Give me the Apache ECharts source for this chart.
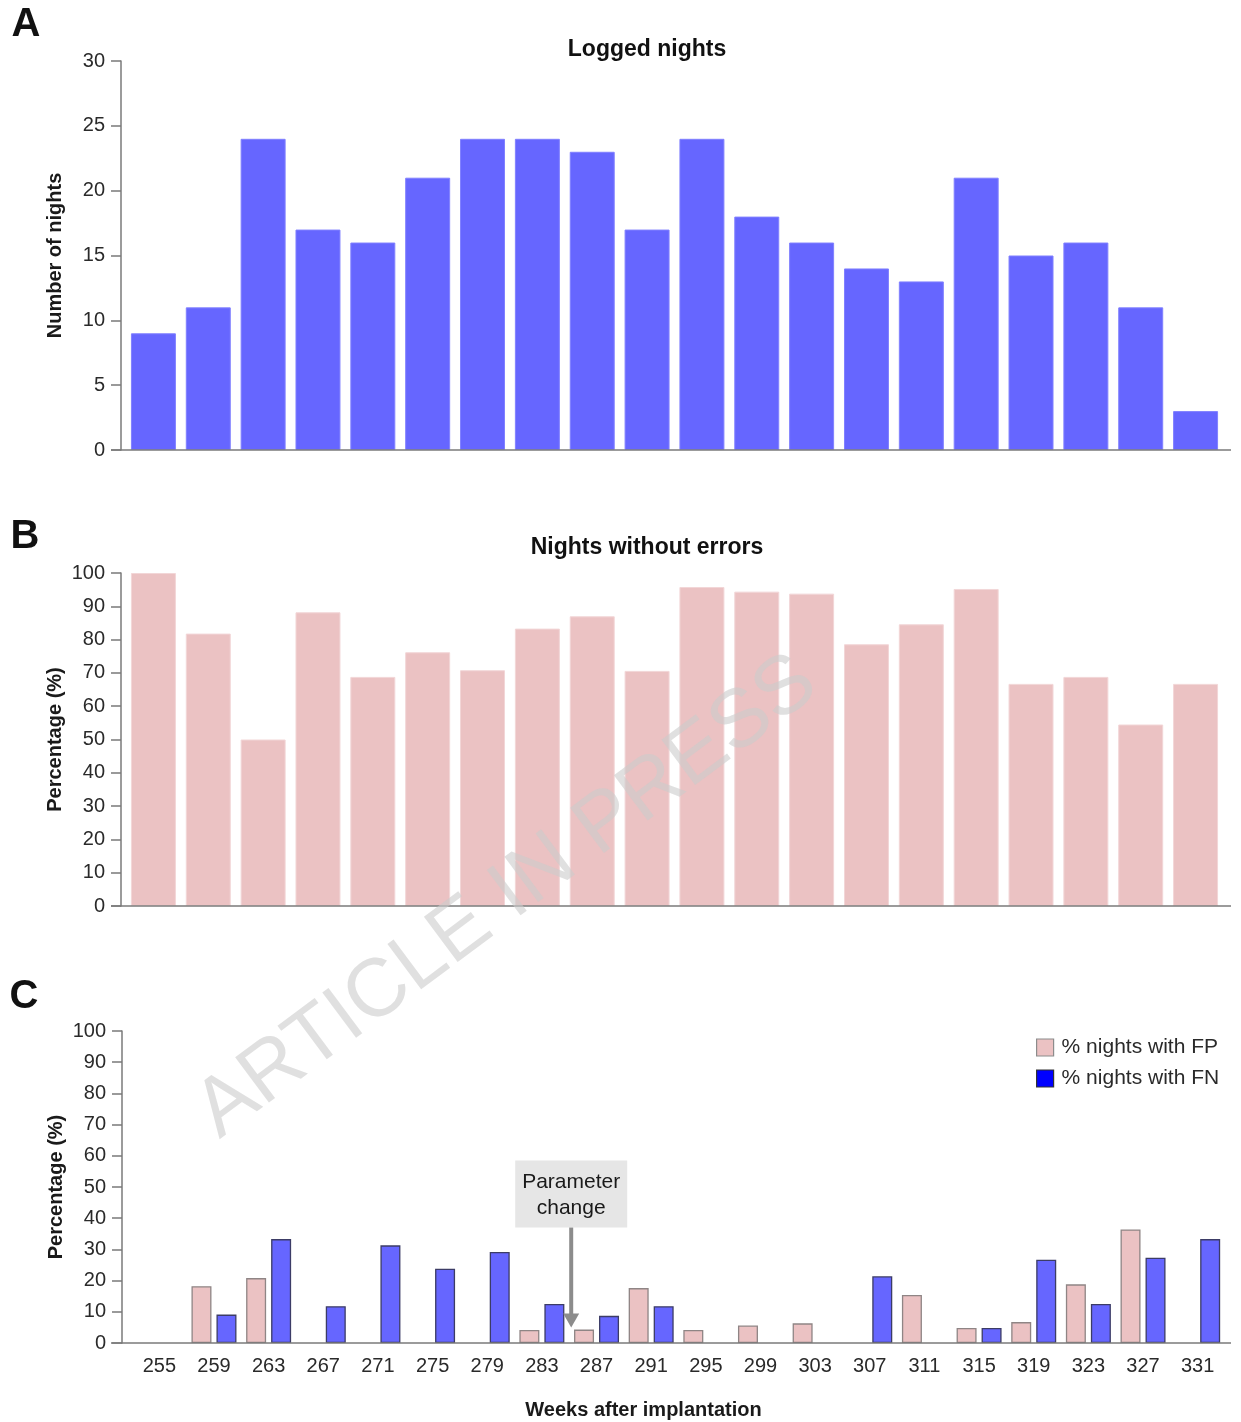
<!DOCTYPE html>
<html>
<head>
<meta charset="utf-8">
<title>Logged nights and error rates</title>
<script src="https://cdn.jsdelivr.net/npm/echarts@6/dist/echarts.min.js"></script>
<style>
  html, body { margin: 0; padding: 0; background: #ffffff; }
  #chart { width: 1241px; height: 1422px; }
</style>
</head>
<body>
<div id="chart"></div>
<script>
// Weeks after implantation (category axis shared by the three panels)
const weeks = ['255', '259', '263', '267', '271', '275', '279', '283', '287', '291',
               '295', '299', '303', '307', '311', '315', '319', '323', '327', '331'];

// Panel A: number of logged nights per 4-week block
const loggedNights = [9, 11, 24, 17, 16, 21, 24, 24, 23, 17, 24, 18, 16, 14, 13, 21, 15, 16, 11, 3];

// Panel B: percentage of nights without errors
const nightsWithoutErrors = [100, 81.8, 50, 88.2, 68.8, 76.2, 70.8, 83.3, 87, 70.6,
                             95.8, 94.4, 93.8, 78.6, 84.6, 95.2, 66.7, 68.8, 54.5, 66.7];

// Panel C: percentage of nights with false positives / false negatives
const pctNightsFP = [0, 18.2, 20.8, 0, 0, 0, 0, 4.2, 4.3, 17.6,
                     4.2, 5.6, 6.3, 0, 15.4, 4.8, 6.7, 18.8, 36.4, 0];
const pctNightsFN = [0, 9.1, 33.3, 11.8, 31.3, 23.8, 29.2, 12.5, 8.7, 11.8,
                     0, 0, 0, 21.4, 0, 4.8, 26.7, 12.5, 27.3, 33.3];

// Axis tick settings
const nightsTicks = { min: 0, max: 30, interval: 5 };
const percentTicks = { min: 0, max: 100, interval: 10 };

const FONT = "'Liberation Sans', Arial, Helvetica, sans-serif";
const AXIS_GREY = '#7a7a7a';
const BLUE = '#6666ff';
const PINK = '#ebc2c3';

// Plot areas (pixels)
const panels = [
  { top: 61,   height: 389, left: 126, right: 18, offset: 5 },
  { top: 573,  height: 333, left: 126, right: 18, offset: 5 },
  { top: 1031, height: 312, left: 132, right: 16, offset: 10 }
];

// Empty weeks get no bar at all (a zero-height bar would still show its outline)
const noZeroBars = arr => arr.map(v => (v === 0 ? '-' : v));

function valueAxis(gridIndex, ticks, name, offset) {
  return {
    type: 'value', gridIndex, min: ticks.min, max: ticks.max, interval: ticks.interval,
    offset,
    name, nameLocation: 'middle', nameGap: 56, nameMoveOverlap: false,
    nameTextStyle: { fontFamily: FONT, fontSize: 20, fontWeight: 'bold', color: '#1a1a1a' },
    axisLine: { show: true, lineStyle: { color: AXIS_GREY, width: 1.5 } },
    axisTick: { show: true, length: 10, lineStyle: { color: AXIS_GREY, width: 1.5 } },
    axisLabel: { fontFamily: FONT, fontSize: 20, color: '#2a2a2a', margin: 16 },
    splitLine: { show: false }
  };
}

function categoryAxis(gridIndex, showLabels) {
  return {
    type: 'category', gridIndex, data: weeks,
    axisLine: { show: false },
    axisTick: { show: false },
    axisLabel: { show: showLabels, fontFamily: FONT, fontSize: 20, color: '#2a2a2a', margin: 13 },
    name: showLabels ? 'Weeks after implantation' : '',
    nameLocation: 'middle', nameGap: 57, nameMoveOverlap: false,
    nameTextStyle: {
      fontFamily: FONT, fontSize: 20, fontWeight: 'bold', color: '#1a1a1a',
      padding: [0, 70, 0, 0]
    }
  };
}

// Baselines run a little past both ends of each plot area
function baseline(p) {
  const y = p.top + p.height;
  return {
    type: 'line', z: 50,
    shape: { x1: 111, y1: y, x2: 1231, y2: y },
    style: { stroke: AXIS_GREY, lineWidth: 1.5 }
  };
}

function label(text, x, y, size, weight, align) {
  return {
    type: 'text', x, y, z: 60,
    style: {
      text, fontFamily: FONT, fontSize: size, fontWeight: weight,
      fill: '#111', textAlign: align || 'center', textVerticalAlign: 'middle'
    }
  };
}

const chart = echarts.init(document.getElementById('chart'), null, { renderer: 'canvas' });

const option = {
  backgroundColor: '#ffffff',
  animation: false,
  grid: panels.map(p => ({ top: p.top, height: p.height, left: p.left, right: p.right })),
  xAxis: [categoryAxis(0, false), categoryAxis(1, false), categoryAxis(2, true)],
  yAxis: [
    valueAxis(0, nightsTicks, 'Number of nights', panels[0].offset),
    valueAxis(1, percentTicks, 'Percentage (%)', panels[1].offset),
    valueAxis(2, percentTicks, 'Percentage (%)', panels[2].offset)
  ],
  legend: {
    orient: 'vertical', left: 1036, top: 1037,
    itemWidth: 17, itemHeight: 17, itemGap: 10, padding: 0,
    icon: 'rect',
    textStyle: { fontFamily: FONT, fontSize: 21, color: '#2a2a2a', padding: [0, 0, 0, 3] },
    data: [
      { name: '% nights with FP', itemStyle: { color: PINK, borderColor: '#8c8c8c', borderWidth: 1.2 } },
      { name: '% nights with FN', itemStyle: { color: '#0000ff', borderColor: '#333', borderWidth: 1.2 } }
    ]
  },
  series: [
    {
      name: 'Logged nights', type: 'bar', xAxisIndex: 0, yAxisIndex: 0,
      data: loggedNights, barCategoryGap: '18%',
      itemStyle: { color: BLUE, borderColor: '#8080ff', borderWidth: 1 }
    },
    {
      name: 'Nights without errors', type: 'bar', xAxisIndex: 1, yAxisIndex: 1,
      data: nightsWithoutErrors, barCategoryGap: '18%',
      itemStyle: { color: PINK, borderColor: '#f2d6d7', borderWidth: 1 }
    },
    {
      name: '% nights with FP', type: 'bar', xAxisIndex: 2, yAxisIndex: 2,
      data: noZeroBars(pctNightsFP), barWidth: 20, barGap: '25%',
      itemStyle: { color: PINK, borderColor: '#8f8585', borderWidth: 1.3 }
    },
    {
      name: '% nights with FN', type: 'bar', xAxisIndex: 2, yAxisIndex: 2,
      data: noZeroBars(pctNightsFN), barWidth: 20, barGap: '25%',
      itemStyle: { color: BLUE, borderColor: '#3c3c66', borderWidth: 1.3 }
    }
  ]
};

chart.setOption(option);

// Parameter change marker, placed between weeks 283 and 287
const xa = chart.convertToPixel({ xAxisIndex: 2 }, '283');
const xb = chart.convertToPixel({ xAxisIndex: 2 }, '287');
const ax = (xa + xb) / 2 + 2;
const tipY = chart.convertToPixel({ yAxisIndex: 2 }, 5);
const boxBottom = chart.convertToPixel({ yAxisIndex: 2 }, 37);
const boxTop = chart.convertToPixel({ yAxisIndex: 2 }, 58.5);

chart.setOption({
  graphic: [
    baseline(panels[0]), baseline(panels[1]), baseline(panels[2]),
    label('A', 26, 25, 40, 'bold'),
    label('B', 25, 537, 40, 'bold'),
    label('C', 24, 997, 40, 'bold'),
    label('Logged nights', 647, 50, 23, 'bold'),
    label('Nights without errors', 647, 548, 23, 'bold'),
    {
      type: 'rect', z: 55,
      shape: { x: ax - 56, y: boxTop, width: 112, height: boxBottom - boxTop },
      style: { fill: '#e6e6e6' }
    },
    {
      type: 'text', x: ax, y: (boxTop + boxBottom) / 2 + 1, z: 60,
      style: {
        text: 'Parameter\nchange', fontFamily: FONT, fontSize: 21, lineHeight: 26,
        fill: '#1a1a1a', textAlign: 'center', textVerticalAlign: 'middle'
      }
    },
    {
      type: 'line', z: 55,
      shape: { x1: ax, y1: boxBottom, x2: ax, y2: tipY - 12 },
      style: { stroke: '#8c8c8c', lineWidth: 4 }
    },
    {
      type: 'polygon', z: 55,
      shape: { points: [[ax - 8, tipY - 14], [ax + 8, tipY - 14], [ax, tipY]] },
      style: { fill: '#8c8c8c' }
    },
    {
      // "ARTICLE IN PRESS" watermark across panels B and C
      type: 'text', x: 507, y: 897, z: 100, rotation: 0.64,
      style: {
        text: 'ARTICLE IN PRESS', fontFamily: FONT, fontSize: 82,
        fill: 'rgba(203,203,203,0.6)', textAlign: 'center', textVerticalAlign: 'middle'
      }
    }
  ]
});
</script>
</body>
</html>
